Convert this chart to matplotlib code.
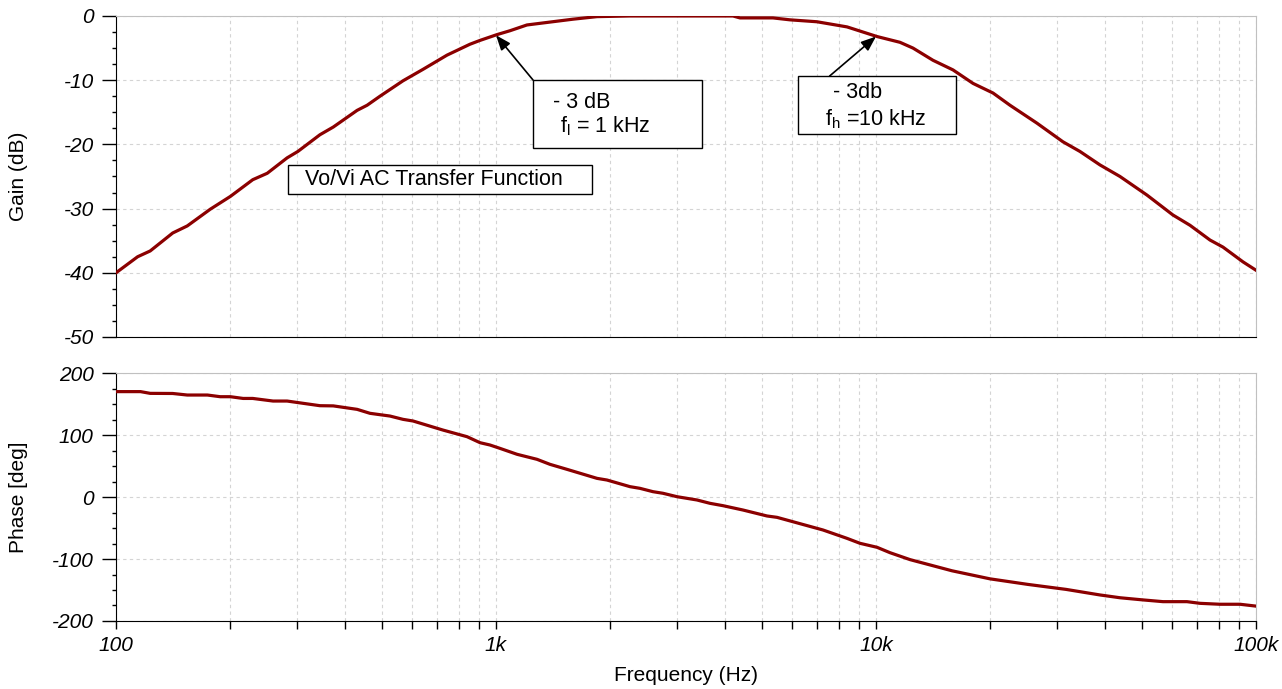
import matplotlib.pyplot as plt
import matplotlib.ticker as mticker
from matplotlib.patches import Rectangle

plt.rcParams["font.family"] = ["Liberation Sans", "DejaVu Sans"]
plt.rcParams["mathtext.fontset"] = "custom"
plt.rcParams["mathtext.rm"] = "Liberation Sans"
plt.rcParams["mathtext.it"] = "Liberation Sans:italic"
plt.rcParams["axes.unicode_minus"] = False

# gain curve (Hz, dB)
gain_freq = [100, 114, 123, 141, 154, 177, 200, 229, 250, 282,
             301, 344, 373, 431, 458, 495, 569, 643, 743, 854,
             908, 1006, 1088, 1206, 1594, 1844, 2252, 4204, 4386, 5356,
             5939, 6994, 8390, 10061, 11565, 12515, 14125, 15947, 18003, 20323,
             22521, 26531, 31053, 34416, 38860, 43866, 51672, 60463, 67048, 75689,
             81890, 92440, 100000]
gain_db = [-40.0, -37.5, -36.6, -33.8, -32.7, -30.1, -28.1, -25.5, -24.5, -22.1,
           -21.1, -18.5, -17.3, -14.7, -13.9, -12.5, -10.1, -8.3, -6.1, -4.4,
           -3.8, -2.9, -2.3, -1.4, -0.5, -0.1, 0.0, 0.0, -0.3, -0.3,
           -0.6, -0.9, -1.7, -3.2, -4.1, -5.0, -6.9, -8.4, -10.5, -12.0,
           -13.9, -16.7, -19.6, -21.1, -23.2, -25.0, -27.9, -31.0, -32.6, -34.9,
           -36.0, -38.3, -39.6]

# phase curve (Hz, deg)
phase_freq = [100, 116, 123, 141, 154, 174, 188, 200, 216, 229,
              259, 282, 344, 373, 431, 466, 526, 569, 605, 725,
              839, 908, 964, 1024, 1136, 1282, 1387, 1538, 1844, 1959,
              2252, 2392, 2589, 2751, 2995, 3380, 3658, 3958, 4467, 5167,
              5489, 7253, 8390, 9077, 10061, 10885, 12291, 15849, 19953, 25119,
              31623, 38860, 43866, 50430, 56925, 65810, 71233, 80400, 90770, 100000]
phase_deg = [170, 170, 167.2, 167, 164.5, 164.5, 161.8, 161.8, 159, 159,
             154.8, 154.8, 147.3, 147, 141.4, 135, 130.6, 125.3, 122.6, 108,
             97.3, 87.6, 83.9, 78.5, 68.9, 60.8, 52.7, 44.6, 30.1, 27.4,
             16.7, 14, 8.6, 6, 0.5, -4.8, -10.2, -14, -21, -30.6,
             -32.8, -53.2, -66.7, -74.7, -81.1, -89.8, -101, -119, -132, -141,
             -149, -158, -162.5, -166, -168.8, -168.8, -171.5, -173, -173, -176]

x_ticks = [100, 1000, 10000, 100000]
x_labels = ["100", "1k", "10k", "100k"]

line_color = "#8b0000"
grid_color = "#d4d4d4"
light_spine = "#c0c0c0"
fs = 15
fs_note = 15.5

fig = plt.figure(figsize=(12.82, 6.89), dpi=100)
ax1 = fig.add_axes([0.0905, 0.5109, 0.8892, 0.4659])
ax2 = fig.add_axes([0.0905, 0.0987, 0.8892, 0.3599])


def style_axis(ax, ylim, ymajor, yminor):
    ax.set_xscale("log")
    ax.set_xlim(100, 100000)
    ax.set_ylim(*ylim)
    ax.yaxis.set_major_locator(mticker.MultipleLocator(ymajor))
    ax.yaxis.set_minor_locator(mticker.MultipleLocator(yminor))
    ax.xaxis.set_major_locator(mticker.FixedLocator(x_ticks))
    ax.xaxis.set_minor_locator(mticker.LogLocator(base=10, subs=range(2, 10)))
    ax.grid(True, which="major", axis="y", color=grid_color, linestyle=(0, (3, 3)), linewidth=0.8)
    ax.grid(True, which="both", axis="x", color=grid_color, linestyle=(0, (3, 3)), linewidth=0.8)
    ax.set_axisbelow(True)
    for side in ["top", "right"]:
        ax.spines[side].set_color(light_spine)
    for side in ["left", "bottom"]:
        ax.spines[side].set_color("black")
    ax.tick_params(axis="y", which="major", direction="out", length=10, width=1, pad=6)
    ax.tick_params(axis="y", which="minor", direction="out", length=3, width=1)


# ---- gain ----
ax1.plot(gain_freq, gain_db, color=line_color, linewidth=2.3, zorder=3)
style_axis(ax1, (-50, 0), 10, 2.5)
ax1.tick_params(axis="x", which="both", length=0, labelbottom=False)
ax1.set_ylabel("Gain (dB)", fontsize=fs)
ax1.yaxis.set_label_coords(-0.077, 0.5)
for lab in ax1.get_yticklabels():
    lab.set_fontstyle("italic")
    lab.set_fontsize(fs)

# ---- phase ----
ax2.plot(phase_freq, phase_deg, color=line_color, linewidth=2.3, zorder=3)
style_axis(ax2, (-200, 200), 100, 25)
ax2.tick_params(axis="x", which="both", direction="out", length=6, width=1, pad=5)
ax2.set_xticklabels(x_labels, fontsize=fs, fontstyle="italic")
ax2.set_ylabel("Phase [deg]", fontsize=fs)
ax2.yaxis.set_label_coords(-0.077, 0.5)
ax2.set_xlabel("Frequency (Hz)", fontsize=fs)
ax2.xaxis.set_label_coords(0.5, -0.18)
for lab in ax2.get_yticklabels():
    lab.set_fontstyle("italic")
    lab.set_fontsize(fs)

# ---- annotation boxes ----
boxes = [(0.3658, 0.5888, 0.1482, 0.2118),
         (0.598, 0.6324, 0.1388, 0.1806),
         (0.1509, 0.4455, 0.2666, 0.0903)]
for bx, by, bw, bh in boxes:
    ax1.add_patch(Rectangle((bx, by), bw, bh, transform=ax1.transAxes,
                            facecolor="white", edgecolor="black", linewidth=1.0, zorder=4))

ax1.text(0.3833, 0.732, "- 3 dB", transform=ax1.transAxes, fontsize=fs_note, va="center", zorder=5)
ax1.text(0.3895, 0.657, r"f$_\mathrm{l}$ = 1 kHz", transform=ax1.transAxes, fontsize=fs_note, va="center", zorder=5)
ax1.text(0.629, 0.763, "- 3db", transform=ax1.transAxes, fontsize=fs_note, va="center", zorder=5)
ax1.text(0.6219, 0.679, r"f$_\mathrm{h}$ =10 kHz", transform=ax1.transAxes, fontsize=fs_note, va="center", zorder=5)
ax1.text(0.1658, 0.492, "Vo/Vi AC Transfer Function", transform=ax1.transAxes, fontsize=fs_note, va="center", zorder=5)

arrow = dict(arrowstyle="-|>,head_length=0.9,head_width=0.35", color="black", linewidth=1.2, shrinkA=0, shrinkB=0)
ax1.annotate("", xy=(1000, -3.0), xytext=(0.3658, 0.8006), textcoords=ax1.transAxes,
             arrowprops=arrow, zorder=5)
ax1.annotate("", xy=(10000, -3.2), xytext=(0.626, 0.8130), textcoords=ax1.transAxes,
             arrowprops=arrow, zorder=5)

fig.savefig("out.png", dpi=100)
